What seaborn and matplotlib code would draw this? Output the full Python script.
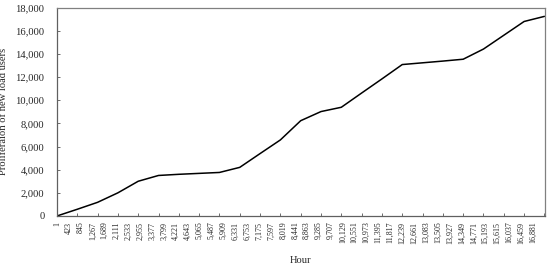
import numpy as np
import pandas as pd
import matplotlib
matplotlib.use("Agg")
import matplotlib.pyplot as plt
import seaborn as sns

# monthly points (every 720 hours)
hours = [0, 720, 1440, 2160, 2880, 3600, 4320, 5040, 5760, 6480, 7200, 7920, 8640,
         9360, 10080, 10800, 11520, 12240, 12960, 13680, 14400, 15120, 15840, 16560, 17280]
users = [0, 580, 1180, 2000, 3000, 3500, 3600, 3680, 3760, 4200, 5390, 6570, 8230,
         9020, 9390, 10620, 11840, 13080, 13230, 13380, 13540, 14420, 15610, 16800, 17240]

# category labels shown on the x axis (every 422 hours)
label_hours = list(range(1, 17000, 422))
tick_labels = [f"{h:,}" for h in label_hours]
y_ticks = list(range(0, 18001, 2000))

df = pd.DataFrame({"Hour": hours, "Users": users})

sns.set_style("white")
plt.rcParams['font.family'] = ['Liberation Serif', 'DejaVu Serif']

fig = plt.figure(figsize=(5.5, 2.71), dpi=100)
ax = fig.add_axes([0.1036, 0.203, 0.8874, 0.769])

sns.lineplot(data=df, x="Hour", y="Users", color="black", linewidth=1.1, ax=ax)

ax.set_xlim(1, 17302)
ax.set_ylim(0, 18000)

ax.set_xticks(label_hours)
ax.set_xticklabels(tick_labels, rotation=90, fontsize=5.8)
ax.set_xticks(list(range(720, 17302, 720)), minor=True)
ax.tick_params(axis="x", which="major", length=0, pad=4)
ax.tick_params(axis="x", which="minor", direction="in", length=2.5, width=0.6,
               color="#555555", bottom=True)

ax.set_yticks(y_ticks)
ax.set_yticklabels([f"{v:,}" for v in y_ticks], fontsize=7.6)
ax.tick_params(axis="y", direction="in", length=2, width=0.6, color="#555555",
               left=True, pad=9)

for s in ax.spines.values():
    s.set_color("#808080")
    s.set_linewidth(0.9)
ax.spines["left"].set_color("#606060")
ax.spines["bottom"].set_color("#606060")

ax.set_xlabel("Hour", fontsize=7.6, labelpad=9)
ax.set_ylabel("Proliferaion of new load users", fontsize=7.6, labelpad=5)

fig.savefig("out.png", dpi=100)
